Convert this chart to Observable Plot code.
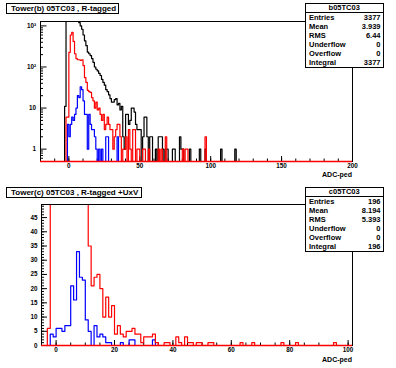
<!DOCTYPE html>
<html><head><meta charset="utf-8">
<script src="https://cdn.jsdelivr.net/npm/d3@7"></script>
<script src="https://cdn.jsdelivr.net/npm/@observablehq/plot@0.6"></script>
<style>
body{margin:0;background:#fff;}
#root{position:relative;width:396px;height:368px;overflow:hidden;font-family:"Liberation Sans",Arial,sans-serif;font-weight:bold;color:#000;}
.title{border:1px solid #000;background:#fff;font-size:8px;line-height:9px;padding:0 0 0 4px;box-sizing:border-box;white-space:nowrap;}
.stats{border:1px solid #000;background:#fff;font-size:7.5px;box-sizing:border-box;}
.stats .hd{text-align:center;border-bottom:1px solid #000;height:8px;line-height:8px;}
.stats .row{display:flex;justify-content:space-between;padding:0 2px 0 3px;height:9.1px;line-height:9.1px;}
.xl{font-size:7px;text-align:right;width:60px;line-height:8px;}
</style></head>
<body><div id="root"></div>
<script>
// ---------- data (bin width 1, counts listed from the given start bin) ----------
const blackTopStart = -3;
const blackTop = [11, 1500,1500,1500,1500,1500,1500,1500,1500,1500,
  1200,1000,830,600,430,330,230,210,190,160,
  130,100,88,80,70,62,50,42,36,28,
  25,21,17,14,14,16,17,12,13,9,
  11,2,1,7,7,4,5,10,10,8,
  4,3,3,3,0,2,6,6,2,0,
  2,2,0,0,1,0,2,2,2,1,
  0,1,1,0,0,0,1,1,0,0,
  0,2,1,1,0,0,0,0,1,0,
  0,0,0,0,0,1,0,0,0,1,
  0,0,0,0,0,0,0,0,0,0,
  1,0,0,0,0,0,0,0,0,0,
  1];
const redTopStart = -2;
const redTop = [6,6,227,600,700,420,210,160,150,150,
  145,150,108,55,42,27,25,24,18,15,
  10,14,9,10,7,5,7,3,4,6,
  4,3,3,1,2,3,4,4,2,0,
  1,1,2,0,3,1,0,3,3,0,
  1,1,0,0,1,1,0,0,1,0,
  0,0,0,0,0,1,0,1,0,0,
  2,0,0,0,0,0,0,0,0,0,
  0,0,1,0,1,1,0,0,0,0,
  0,0,0,0,0,0,0,0,2];
const blueTopStart = -1;
const blueTop = [4,2,4,6,5,7,10,20,18,33,
  28,15,7,7,1,7,4,3,3,2,
  1,0,1,0,1,0,0,2,2,0,
  0,0,0,0,0,2];

const redBotStart = -5;
const redBot = [0,0,6,60,60,60,60,60,60,60,60,60,60,60,60,60,
  35,21,24,25,20,10,17,10,14,4,
  7,4,3,5,5,6,4,4,1,3,
  3,3,4,1,0,0,1,1,0,0,
  3,1,0,3,1,1,0,1,1,0,
  0,1,1,0,0,0,0,0,0,0,
  0,0,1,0,0,0,1,0,0,0,
  0,0,0,0,0,0,1,0,0,0,
  0,1,0,0,0,0,0,0,0,0,
  0,0,0,0,1];
const blueBotStart = -2;
const blueBot = [4,3,6,6,5,7,7,21,16,33,
  24,23,9,5,0,7,3,4,3,1,
  1,0,0,0,1,0,0,2,2,0,
  0,0,0,0,0,2];

const topXTicks = [0,50,100,150,200];
const topYTicks = [1,10,100,1000];
const topYLabels = ["1","10","10\u00B2","10\u00B3"];
const botXTicks = [0,20,40,60,80,100];
const botYTicks = [0,5,10,15,20,25,30,35,40,45];

const statLabels = ["Entries","Mean","RMS","Underflow","Overflow","Integral"];
const statsTop = ["3377","3.939","6.44","0","0","3377"];
const statsBot = ["196","8.194","5.393","0","0","196"];
const titleTop = "Tower(b) 05TC03 , R-tagged";
const titleBot = "Tower(c) 05TC03 , R-tagged +UxV";
const nameTop = "b05TC03", nameBot = "c05TC03";
const xTitle = "ADC-ped";

// ---------- helpers ----------
// off-scale bins are pushed just beyond the frame and clipped, as ROOT does
function steps(start, counts, lo, hi, ymin, ymaxDraw) {
  const pts = [];
  for (let b = lo; b < hi; b++) {
    const i = b - start;
    const c = (i >= 0 && i < counts.length) ? counts[i] : 0;
    pts.push({x: b, y: Math.min(Math.max(c, ymin), ymaxDraw)});
  }
  pts.push({x: hi, y: pts[pts.length - 1].y});
  return pts;
}
const font = {fontFamily: "Liberation Sans, Arial, sans-serif", fontWeight: "bold"};
const root = document.getElementById("root");
function place(el, left, top) { el.style.position = "absolute"; el.style.left = left + "px"; el.style.top = top + "px"; root.appendChild(el); }
const hist = (pts, color) => Plot.line(pts, {x: "x", y: "y", curve: "step-after", stroke: color, strokeWidth: 1.2, clip: true});

// ---------- top panel (log) ----------
const tYmin = 0.5, tYmax = 1280;
const logMinor = [];
[0.1, 1, 10, 100].forEach(dec => { for (let k = 2; k <= 9; k++) { const v = k * dec; if (v >= tYmin && v <= tYmax) logMinor.push(v); } });
const topPlot = Plot.plot({
  width: 396, height: 180, marginLeft: 40, marginRight: 44, marginTop: 21, marginBottom: 19,
  style: {...font, background: "none"},
  x: {domain: [-20, 200], label: null},
  y: {type: "log", domain: [tYmin, tYmax], label: null},
  marks: [
    Plot.axisX(d3.range(-20, 201, 10), {tickSize: -2.5, tickFormat: () => "", label: null}),
    Plot.axisX(topXTicks, {tickSize: -5, tickFormat: () => "", label: null}),
    Plot.axisX(topXTicks, {tickSize: 0, tickPadding: 2.5, fontSize: 6.3, fontWeight: "bold", label: null}),
    Plot.axisY(logMinor, {tickSize: -3, tickFormat: () => "", label: null}),
    Plot.axisY(topYTicks, {tickSize: -6.5, tickFormat: () => "", label: null}),
    Plot.axisY(topYTicks, {tickSize: 0, tickPadding: 4.5, fontSize: 6.3, fontWeight: "bold", label: null,
      tickFormat: d => topYLabels[topYTicks.indexOf(d)]}),
    hist(steps(blackTopStart, blackTop, -20, 200, tYmin, tYmax * 1.5), "black"),
    hist(steps(blueTopStart, blueTop, -20, 200, tYmin, tYmax * 1.5), "#0000ff"),
    hist(steps(redTopStart, redTop, -20, 200, tYmin, tYmax * 1.5), "#ff0000"),
    Plot.frame({stroke: "black", strokeWidth: 1}),
    Plot.ruleY([tYmin], {stroke: "#ff0000", strokeWidth: 1.4})
  ]
});
place(topPlot, 0, 0);

// ---------- bottom panel (linear) ----------
const bYmax = 49.6;
const botPlot = Plot.plot({
  width: 396, height: 184, marginLeft: 41, marginRight: 44, marginTop: 20, marginBottom: 23,
  style: {...font, background: "none"},
  x: {domain: [-5, 101.5], label: null},
  y: {domain: [0, bYmax], label: null},
  marks: [
    Plot.axisX(d3.range(-5, 101, 5), {tickSize: -2.5, tickFormat: () => "", label: null}),
    Plot.axisX(botXTicks, {tickSize: -5, tickFormat: () => "", label: null}),
    Plot.axisX(botXTicks, {tickSize: 0, tickPadding: 2, fontSize: 6.3, fontWeight: "bold", label: null}),
    Plot.axisY(d3.range(0, 50, 1), {tickSize: -3, tickFormat: () => "", label: null}),
    Plot.axisY(botYTicks, {tickSize: -6, tickFormat: () => "", label: null}),
    Plot.axisY(botYTicks, {tickSize: 0, tickPadding: 4, fontSize: 6.3, fontWeight: "bold", label: null}),
    hist(steps(blueBotStart, blueBot, -5, 101, 0, bYmax * 1.1), "#0000ff"),
    hist(steps(redBotStart, redBot, -5, 101, 0, bYmax * 1.1), "#ff0000"),
    Plot.frame({stroke: "black", strokeWidth: 1}),
    Plot.ruleY([0], {stroke: "#ff0000", strokeWidth: 1.4})
  ]
});
place(botPlot, 0, 184);

// ---------- titles, stats boxes, axis titles ----------
function titleBox(text, left, top, w) {
  const d = document.createElement("div"); d.className = "title"; d.textContent = text;
  d.style.width = w + "px"; d.style.height = "11px"; place(d, left, top);
}
titleBox(titleTop, 6, 3, 113);
titleBox(titleBot, 6, 187, 136);

function statsBox(name, vals, left, top) {
  const d = document.createElement("div"); d.className = "stats";
  d.style.width = "78.5px"; d.style.height = "65px";
  const h = document.createElement("div"); h.className = "hd"; h.textContent = name; d.appendChild(h);
  statLabels.forEach((l, i) => {
    const r = document.createElement("div"); r.className = "row";
    const a = document.createElement("span"); a.textContent = l;
    const b = document.createElement("span"); b.textContent = vals[i];
    r.appendChild(a); r.appendChild(b); d.appendChild(r);
  });
  place(d, left, top);
}
statsBox(nameTop, statsTop, 305, 3);
statsBox(nameBot, statsBot, 305, 187);

function xLabel(top) {
  const d = document.createElement("div"); d.className = "xl"; d.textContent = xTitle; place(d, 292, top);
}
xLabel(171);
xLabel(355.5);
</script></body></html>
